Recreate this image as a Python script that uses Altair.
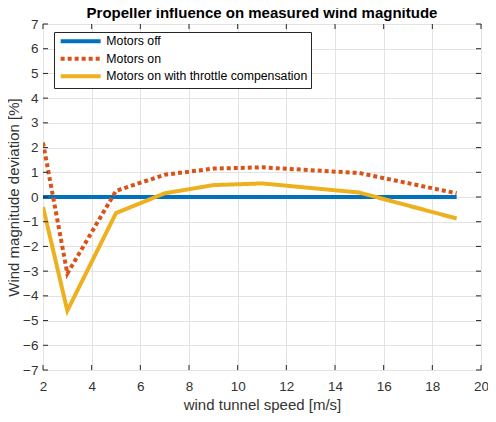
import altair as alt
import pandas as pd

speeds = [2, 3, 5, 7, 9, 11, 15, 19]
motors_off = [0, 0, 0, 0, 0, 0, 0, 0]
motors_on = [2.2, -3.1, 0.25, 0.9, 1.15, 1.2, 0.97, 0.15]
motors_comp = [-0.4, -4.6, -0.65, 0.15, 0.48, 0.55, 0.18, -0.87]
series_names = ["Motors off", "Motors on", "Motors on with throttle compensation"]
series_colors = ["#0072BD", "#D95319", "#EDB120"]
x_ticks = [2, 4, 6, 8, 10, 12, 14, 16, 18, 20]
y_ticks = list(range(-7, 8))

rows = []
for name, vals in zip(series_names, [motors_off, motors_on, motors_comp]):
    for s, v in zip(speeds, vals):
        rows.append({"speed": s, "dev": v, "series": name})
df = pd.DataFrame(rows)

W, H = 438, 346
font = "Liberation Sans"
axis_col = "#262626"
text_col = "#333333"

xscale = alt.Scale(domain=[2, 20], nice=False, zero=False)
yscale = alt.Scale(domain=[-7, 7], nice=False, zero=False)
x_axis = alt.Axis(values=x_ticks, title="wind tunnel speed [m/s]", grid=True,
                  tickSize=0, labelPadding=9, titlePadding=5, domain=False,
                  labelOverlap=False, labelFlush=False, labelFontSize=13.5, titleFontSize=15)
y_axis = alt.Axis(values=y_ticks, title="Wind magnitude deviation [%]", grid=True,
                  tickSize=0, labelPadding=5, titlePadding=1, domain=False,
                  labelOverlap=False, labelFlush=False, labelFontSize=13.5, titleFontSize=15)

lines = alt.Chart(df).mark_line(strokeWidth=4, strokeCap="butt", clip=True).encode(
    x=alt.X("speed:Q", scale=xscale, axis=x_axis),
    y=alt.Y("dev:Q", scale=yscale, axis=y_axis),
    color=alt.Color("series:N", scale=alt.Scale(domain=series_names, range=series_colors),
                    sort=series_names,
                    legend=alt.Legend(title=None, orient="none", legendX=11, legendY=8,
                                      symbolType="M-1,0H15", symbolSize=25, symbolStrokeWidth=4,
                                      labelFontSize=12.3, labelFont=font, labelColor="#000000",
                                      labelOffset=37, rowPadding=0.5, labelLimit=400,
                                      strokeColor="#262626", fillColor="white", padding=3)),
    strokeDash=alt.StrokeDash("series:N",
                              scale=alt.Scale(domain=series_names, range=[[1, 0], [4, 3], [1, 0]]),
                              sort=series_names, legend=None),
)

xt = pd.DataFrame({"speed": x_ticks})
yt = pd.DataFrame({"dev": y_ticks})
tick_style = dict(color=axis_col, strokeWidth=1)
bx = alt.Chart(xt).mark_rule(**tick_style).encode(x=alt.X("speed:Q", scale=xscale, axis=x_axis), y=alt.value(H), y2=alt.value(H - 5))
tx = alt.Chart(xt).mark_rule(**tick_style).encode(x=alt.X("speed:Q", scale=xscale, axis=x_axis), y=alt.value(0), y2=alt.value(5))
ly = alt.Chart(yt).mark_rule(**tick_style).encode(y=alt.Y("dev:Q", scale=yscale, axis=y_axis), x=alt.value(0), x2=alt.value(5))
ry = alt.Chart(yt).mark_rule(**tick_style).encode(y=alt.Y("dev:Q", scale=yscale, axis=y_axis), x=alt.value(W), x2=alt.value(W - 5))

chart = alt.layer(lines, bx, tx, ly, ry).properties(
    width=W, height=H,
    title=alt.Title("Propeller influence on measured wind magnitude", fontSize=15, font=font,
                    fontWeight="bold", color="#000000", offset=-4, anchor="middle"),
    autosize=alt.AutoSizeParams(type="none"),
    padding={"left": 35, "top": 16, "right": 7, "bottom": 44},
).configure(background="white").configure_view(stroke=axis_col, strokeWidth=1).configure_axis(
    labelFont=font, titleFont=font,
    labelColor=text_col, titleColor=text_col, titleFontWeight="normal",
    gridColor="#e3e3e3", gridWidth=1,
)

chart.save("out.html", embed_options={"renderer": "svg", "actions": False})
